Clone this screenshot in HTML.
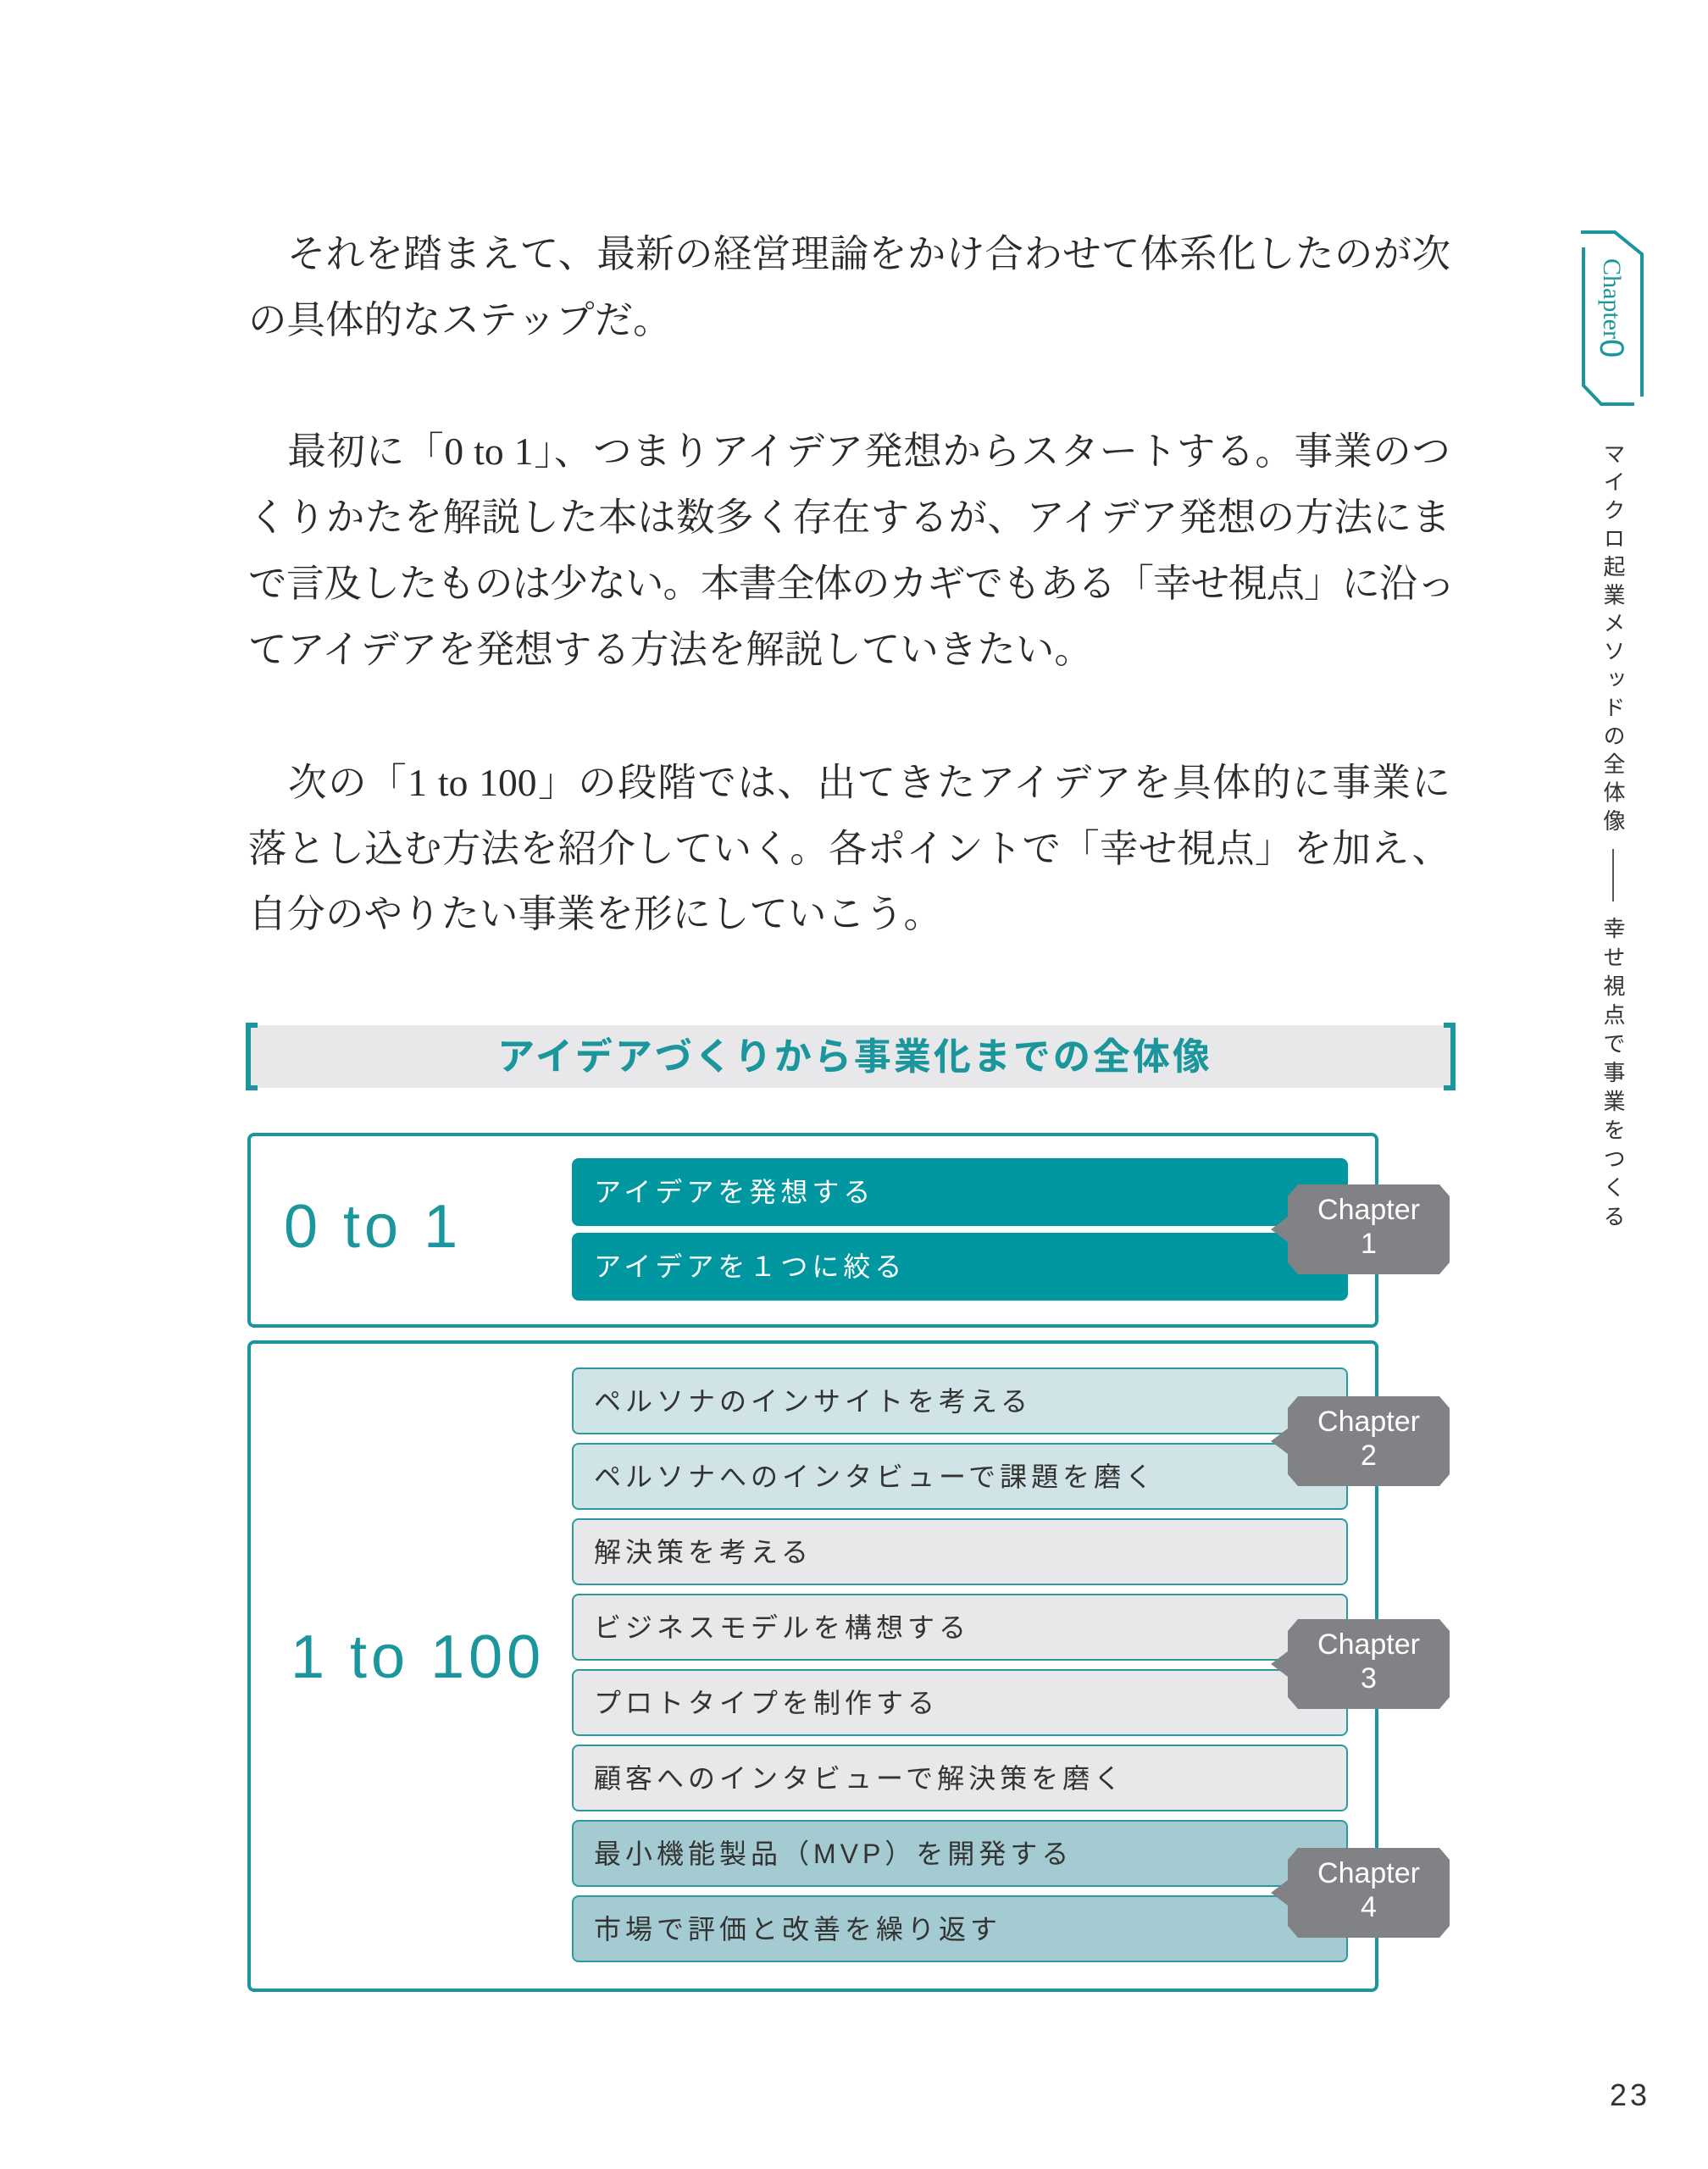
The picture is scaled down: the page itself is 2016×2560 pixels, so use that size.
<!DOCTYPE html>
<html><head><meta charset="utf-8"><style>
body{margin:0;width:2016px;height:2560px;background:#fff;position:relative;overflow:hidden}
.p{position:absolute;left:293px;width:1419px;font-family:"Liberation Serif","Noto Serif CJK JP",serif;font-size:45.5px;color:#2a2a2a;line-height:78px;white-space:nowrap}
.j{text-align:justify;text-align-last:justify}
.row{position:absolute;left:675px;width:916px;height:79px;border:2px solid #2a9a9f;border-radius:8px;box-sizing:border-box;font-family:"Liberation Sans","Noto Sans CJK JP",sans-serif;font-size:32px;letter-spacing:5px;color:#333;line-height:77px;padding-left:24px}
.b{background:#d0e3e6}.g{background:#e8e8ea}.d{background:#a4cbd1}
.t{background:#0097a0;border-color:#0097a0;color:#fff;height:80px}
.box{position:absolute;left:292px;width:1335px;border:4px solid #1a969c;border-radius:8px;box-sizing:border-box}
.big{position:absolute;font-family:"Liberation Sans","DejaVu Sans",sans-serif;color:#1a969c;font-size:72px;letter-spacing:5px}
.badge{position:absolute;left:1500px;width:211px;height:106px}
.badge span{position:absolute;left:20px;width:191px;top:10px;text-align:center;color:#fff;font-family:"Liberation Sans",sans-serif;font-size:34px;line-height:40px}
</style></head><body>
<div class="p j" style="top:261px">　それを踏まえて、最新の経営理論をかけ合わせて体系化したのが次</div>
<div class="p" style="top:339px">の具体的なステップだ。</div>
<div class="p j" style="top:494px">　最初に「0 to 1」、つまりアイデア発想からスタートする。事業のつ</div>
<div class="p j" style="top:572px">くりかたを解説した本は数多く存在するが、アイデア発想の方法にま</div>
<div class="p j" style="top:650px;letter-spacing:-1px">で言及したものは少ない。本書全体のカギでもある「幸せ視点」に沿っ</div>
<div class="p" style="top:728px">てアイデアを発想する方法を解説していきたい。</div>
<div class="p j" style="top:885px">　次の「1 to 100」の段階では、出てきたアイデアを具体的に事業に</div>
<div class="p j" style="top:963px">落とし込む方法を紹介していく。各ポイントで「幸せ視点」を加え、</div>
<div class="p" style="top:1040px">自分のやりたい事業を形にしていこう。</div>

<div style="position:absolute;left:293px;top:1210px;width:1422px;height:74px;background:#e8e8ea"></div>
<svg style="position:absolute;left:0;top:0" width="2016" height="2560">
<path d="M304 1210 H293 V1284 H304" fill="none" stroke="#1a969c" stroke-width="6"/>
<path d="M1704 1210 H1715 V1284 H1704" fill="none" stroke="#1a969c" stroke-width="6"/>
<path d="M1869 292 L1869 455 L1890 477 L1929 477" fill="none" stroke="#1a969c" stroke-width="4"/>
<path d="M1866 274 L1906 274 L1938 300 L1938 468" fill="none" stroke="#1a969c" stroke-width="4"/>
</svg>
<div style="position:absolute;left:298px;top:1211px;width:1422px;height:74px;text-align:center;line-height:74px;font-family:'Liberation Sans','Noto Sans CJK JP',sans-serif;font-weight:bold;font-size:44px;letter-spacing:3px;color:#1a969c">アイデアづくりから事業化までの全体像</div>

<div class="box" style="top:1337px;height:230px"></div>
<div class="box" style="top:1582px;height:769px"></div>
<div class="big" style="left:335px;top:1407px">0 to 1</div>
<div class="big" style="left:343px;top:1915px">1 to 100</div>

<div class="row t" style="top:1367px">アイデアを発想する</div>
<div class="row t" style="top:1455px">アイデアを１つに絞る</div>
<div class="row b" style="top:1614px">ペルソナのインサイトを考える</div>
<div class="row b" style="top:1703px">ペルソナへのインタビューで課題を磨く</div>
<div class="row g" style="top:1792px">解決策を考える</div>
<div class="row g" style="top:1881px">ビジネスモデルを構想する</div>
<div class="row g" style="top:1970px">プロトタイプを制作する</div>
<div class="row g" style="top:2059px">顧客へのインタビューで解決策を磨く</div>
<div class="row d" style="top:2148px">最小機能製品（MVP）を開発する</div>
<div class="row d" style="top:2237px">市場で評価と改善を繰り返す</div>

<svg width="0" height="0" style="position:absolute"><defs><polygon id="bd" points="32,0 199,0 211,14 211,92 199,106 32,106 20,92 20,68 0,53 20,38 20,14"/></defs></svg>
<div class="badge" style="top:1398px"><svg width="211" height="106"><use href="#bd" fill="#808285"/></svg><span>Chapter<br>1</span></div>
<div class="badge" style="top:1648px"><svg width="211" height="106"><use href="#bd" fill="#808285"/></svg><span>Chapter<br>2</span></div>
<div class="badge" style="top:1911px"><svg width="211" height="106"><use href="#bd" fill="#808285"/></svg><span>Chapter<br>3</span></div>
<div class="badge" style="top:2181px"><svg width="211" height="106"><use href="#bd" fill="#808285"/></svg><span>Chapter<br>4</span></div>

<div style="position:absolute;left:1882px;top:305px;writing-mode:vertical-rl;font-family:'Liberation Serif',serif;font-size:30px;color:#1a969c;line-height:40px">Chapter<span style="font-family:'Liberation Sans',sans-serif;font-size:40px">0</span></div>
<div style="position:absolute;left:1886px;top:522px;writing-mode:vertical-rl;font-family:'Liberation Sans','Noto Sans CJK JP',sans-serif;font-size:26px;letter-spacing:7.3px;color:#333;line-height:36px">マイクロ起業メソッドの全体像</div>
<div style="position:absolute;left:1903px;top:1002px;width:2px;height:62px;background:#555"></div>
<div style="position:absolute;left:1886px;top:1082px;writing-mode:vertical-rl;font-family:'Liberation Sans','Noto Sans CJK JP',sans-serif;font-size:26px;letter-spacing:8px;color:#333;line-height:36px">幸せ視点で事業をつくる</div>
<div style="position:absolute;left:1900px;top:2452px;font-family:'Liberation Sans',sans-serif;font-size:36px;letter-spacing:4px;color:#333">23</div>
</body></html>
